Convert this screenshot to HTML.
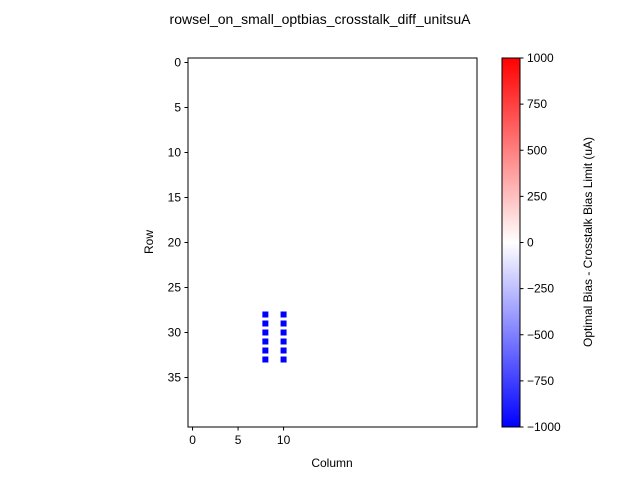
<!DOCTYPE html>
<html><head><meta charset="utf-8"><style>body{margin:0;background:#fff}svg{font-family:"Liberation Sans",sans-serif}</style></head><body>
<svg id="s" width="640" height="480">
<defs><linearGradient id="g" x1="0" y1="1" x2="0" y2="0"><stop offset="0" stop-color="#0000ff"/><stop offset="0.5" stop-color="#ffffff"/><stop offset="1" stop-color="#ff0000"/></linearGradient></defs>
<text x="320" y="24" font-size="14" text-anchor="middle">rowsel_on_small_optbias_crosstalk_diff_unitsuA</text>
<g id="plot"></g>
<rect x="188" y="58" width="289" height="369" fill="none" stroke="#000" stroke-width="1"/>
<text x="332" y="467" font-size="12" text-anchor="middle">Column</text>
<text transform="translate(153,242) rotate(-90)" font-size="12" text-anchor="middle">Row</text>
<rect x="502" y="58" width="18" height="369" fill="url(#g)" stroke="#000" stroke-width="1"/>
<text transform="translate(592,242) rotate(-90)" font-size="12" text-anchor="middle">Optimal Bias - Crosstalk Bias Limit (uA)</text>
</svg>
<script>
const xTicks=[0,5,10];
const yTicks=[0,5,10,15,20,25,30,35];
const cbTicks=[-1000,-750,-500,-250,0,250,500,750,1000];
const cellCols=[8,8,8,8,8,8,10,10,10,10,10,10];
const cellRows=[28,29,30,31,32,33,28,29,30,31,32,33];
const cellVals=[-1000,-1000,-1000,-1000,-1000,-1000,-1000,-1000,-1000,-1000,-1000,-1000];
const ns="http://www.w3.org/2000/svg";
const X0=188,Y0=58,CW=289/31.75,RH=9;
const xs=c=>X0+(c+0.5)*CW, ys=r=>Y0+(r+0.5)*RH;
const cbY=v=>427-(v+1000)/2000*369;
function col(v){const t=(v+1000)/2000;let r,g,b;if(t<0.5){r=g=Math.round(255*t*2);b=255}else{r=255;g=b=Math.round(255*(1-t)*2)}return `rgb(${r},${g},${b})`}
const s=document.getElementById('s'),p=document.getElementById('plot');
function mk(t,a,par){const e=document.createElementNS(ns,t);for(const k in a)e.setAttribute(k,a[k]);(par||s).appendChild(e);return e}
cellCols.forEach((c,i)=>{const e=mk('rect',{x:xs(cellCols[i])-3,y:ys(cellRows[i])-3,width:6,height:6,fill:col(cellVals[i])},p);

});
xTicks.forEach(v=>{const x=xs(v);mk('line',{x1:x,x2:x,y1:427,y2:430.5,stroke:'#000'});const t=mk('text',{x:x,y:444,'font-size':12,'text-anchor':'middle'});t.textContent=v;

});
yTicks.forEach(v=>{const y=ys(v);mk('line',{x1:184.5,x2:188,y1:y,y2:y,stroke:'#000'});const t=mk('text',{x:181,y:y+4,'font-size':12,'text-anchor':'end'});t.textContent=v;

});
cbTicks.forEach(v=>{const y=cbY(v);mk('line',{x1:520,x2:523.5,y1:y,y2:y,stroke:'#000'});const t=mk('text',{x:527,y:y+4,'font-size':12});t.textContent=v<0?'\u2212'+(-v):v;

});
</script>
</body></html>
